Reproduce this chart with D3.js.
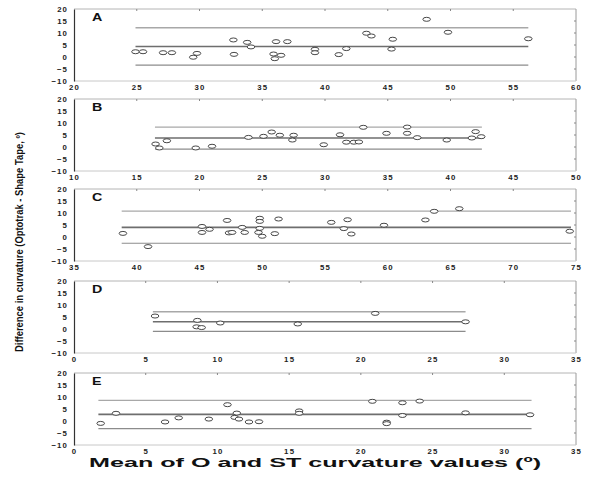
<!DOCTYPE html>
<html><head><meta charset="utf-8">
<script src="https://cdn.jsdelivr.net/npm/d3@7"></script>
<style>body{margin:0;background:#fff}svg{display:block}</style>
</head><body>
<script>
// ---- data ----
const panelLabels = ["A","B","C","D","E"];
const xDomains = [[20,60],[10,50],[35,75],[0,35],[0,35]];
const yTicks = [-10,-5,0,5,10,15,20];
const meanDiff = [4.4, 3.75, 4.0, 3.05, 2.75];
const upperLoA = [12.2, 8.3, 10.8, 7.2, 8.6];
const lowerLoA = [-3.4, -0.9, -2.6, -1.0, -3.2];
const lineStart = [24.9, 16.45, 38.8, 5.5, 1.7];
const lineEnd = [56.2, 42.5, 74.6, 27.3, 31.9];

const xA = [24.9,25.5,27.1,27.8,29.8,29.5,32.7,32.75,33.8,34.1,35.9,36.5,36.0,36.1,37.0,39.2,39.2,41.1,41.7,43.3,43.7,45.4,45.3,48.1,49.8,56.2];
const yA = [2.2,2.2,1.8,1.8,1.5,-0.1,7.1,1.1,6.1,4.2,1.25,0.7,-0.7,6.4,6.4,3.2,1.8,1.0,3.5,9.9,8.75,7.4,3.3,15.7,10.3,7.6];
const xB = [16.5,16.8,17.4,19.7,21.0,23.9,25.1,25.75,26.4,27.5,27.4,29.9,31.2,31.7,32.3,32.7,33.05,34.9,36.55,36.55,37.35,39.7,41.7,42.0,42.45];
const yB = [1.25,-0.4,2.6,-0.4,0.3,4.0,4.45,6.25,4.9,4.9,2.9,0.95,5.1,2.0,2.0,2.1,8.2,5.7,8.3,5.7,3.9,2.9,3.75,6.4,4.3];
const xC = [38.9,40.9,45.2,45.2,45.8,47.2,47.35,47.6,48.4,48.6,49.8,49.8,49.8,49.7,50.0,51.0,51.3,55.5,56.8,56.5,57.1,59.7,63.0,63.7,65.7,74.5];
const yC = [1.5,-4.0,4.4,1.9,3.2,6.9,1.7,1.9,4.0,1.9,7.8,6.5,3.6,1.9,0.3,1.4,7.5,6.1,7.2,3.5,1.25,4.9,7.1,10.7,11.8,2.4];
const xD = [5.65,8.6,8.55,8.9,10.2,15.6,21.0,27.3];
const yD = [5.4,3.6,0.9,0.6,2.5,2.1,6.5,3.0];
const xE = [1.86,2.93,6.35,7.3,9.4,10.7,11.35,11.2,11.5,12.2,12.9,15.7,15.7,20.8,21.8,21.8,22.9,22.9,24.1,27.3,31.8];
const yE = [-1.0,3.2,-0.4,1.3,0.8,6.8,3.3,1.5,0.8,-0.4,-0.3,4.2,3.2,8.2,-0.5,-1.1,7.6,2.3,8.3,3.4,2.6];
const xData = [xA,xB,xC,xD,xE];
const yData = [yA,yB,yC,yD,yE];
const yTitle = "Difference in curvature (Optotrak - Shape Tape, º)";
const xTitle = "Mean of O and ST curvature values (º)";

// ---- layout ----
const W = 600, H = 482;
const left = 74, right = 576, ph = 72;
const tops = [9, 99, 189, 281, 373];

const svg = d3.select("body").append("svg").attr("width", W).attr("height", H);

panelLabels.forEach((lab, i) => {
  const top = tops[i];
  const x = d3.scaleLinear().domain(xDomains[i]).range([left, right]);
  const y = d3.scaleLinear().domain([-10, 20]).range([top + ph, top]);
  const g = svg.append("g");
  const step = 5;
  const xt = d3.range(xDomains[i][0], xDomains[i][1] + 0.1, step);

  // frame: top & right grey
  g.append("line").attr("x1", left).attr("x2", right).attr("y1", top).attr("y2", top)
    .attr("stroke", "#b4b4b4").attr("stroke-width", 1);
  g.append("line").attr("x1", right).attr("x2", right).attr("y1", top).attr("y2", top + ph)
    .attr("stroke", "#9a9a9a").attr("stroke-width", 1);
  g.append("line").attr("x1", left).attr("x2", right).attr("y1", top + ph).attr("y2", top + ph)
    .attr("stroke", "#c8c8c8").attr("stroke-width", 1);

  // top ticks (inward)
  g.selectAll(".tt").data(xt.slice(1, -1)).enter().append("line")
    .attr("x1", d => x(d)).attr("x2", d => x(d)).attr("y1", top).attr("y2", top + 2)
    .attr("stroke", "#888");
  // right ticks (inward)
  g.selectAll(".rt").data(yTicks.slice(1, -1)).enter().append("line")
    .attr("x1", right - 2).attr("x2", right).attr("y1", d => y(d)).attr("y2", d => y(d))
    .attr("stroke", "#888");

  // left axis
  const ya = d3.axisLeft(y).tickValues(yTicks).tickSize(0).tickPadding(6).tickFormat(d3.format("d"));
  const yg = g.append("g").attr("transform", `translate(${left},0)`).call(ya);
  yg.select(".domain").attr("stroke", "#333").attr("stroke-width", 1.2);
  yg.selectAll("text").attr("font-family", "Liberation Sans, Arial, sans-serif")
    .attr("font-weight", "bold").attr("font-size", 7.8).attr("fill", "#222")
    .attr("letter-spacing", 1.1).text(d => d < 0 ? "\u2212" + Math.abs(d) : d);

  // bottom axis labels
  const xa = d3.axisBottom(x).tickValues(xt).tickSize(0).tickPadding(3).tickFormat(d3.format("d"));
  const xg = g.append("g").attr("transform", `translate(0,${top + ph})`).call(xa);
  xg.select(".domain").remove();
  xg.selectAll("text").attr("font-family", "Liberation Sans, Arial, sans-serif")
    .attr("font-weight", "bold").attr("font-size", 7.8).attr("fill", "#222")
    .attr("letter-spacing", 1.2);

  // agreement lines
  const ls = lineStart[i], le = lineEnd[i];
  [[upperLoA[i], "#a8a8a8", 1.4], [meanDiff[i], "#6e6e6e", 1.6], [lowerLoA[i], "#8c8c8c", 1.2]]
    .forEach(([v, c, w]) => {
      g.append("line").attr("x1", x(ls)).attr("x2", x(le)).attr("y1", y(v)).attr("y2", y(v))
        .attr("stroke", c).attr("stroke-width", w);
    });

  // points
  const pts = xData[i].map((v, k) => [v, yData[i][k]]);
  g.selectAll(".pt").data(pts).enter().append("ellipse")
    .attr("cx", d => x(d[0])).attr("cy", d => y(d[1]))
    .attr("rx", 3.8).attr("ry", 2.0)
    .attr("fill", "#fff").attr("stroke", "#333").attr("stroke-width", 0.9);

  // panel letter
  g.append("text").attr("x", 92).attr("y", top + 12).text(lab)
    .attr("font-family", "Liberation Sans, Arial, sans-serif").attr("font-weight", "bold")
    .attr("font-size", 11).attr("fill", "#111").attr("transform-origin", `92px ${top + 12}px`)
    .attr("transform", "scale(1.3,1)");
});

// y title
svg.append("text")
  .attr("transform", "translate(23,242) rotate(-90)")
  .attr("text-anchor", "middle")
  .attr("font-family", "Liberation Sans Narrow, Liberation Sans, Arial, sans-serif")
  .attr("font-weight", "bold").attr("font-size", 10).attr("fill", "#111")
  .attr("textLength", 220).attr("lengthAdjust", "spacingAndGlyphs")
  .text(yTitle);

// x title
svg.append("text")
  .attr("x", 315).attr("y", 467).attr("text-anchor", "middle")
  .attr("font-family", "Liberation Sans, Arial, sans-serif")
  .attr("font-weight", "bold").attr("font-size", 12).attr("fill", "#111")
  .attr("textLength", 452).attr("lengthAdjust", "spacingAndGlyphs")
  .text(xTitle);
</script>
</body></html>
